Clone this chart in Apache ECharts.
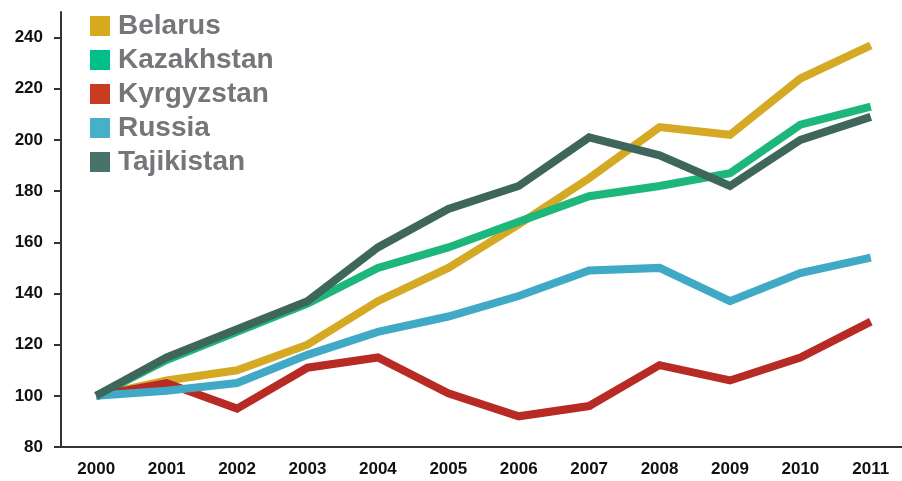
<!DOCTYPE html>
<html>
<head>
<meta charset="utf-8">
<script src="https://cdn.jsdelivr.net/npm/echarts@6/dist/echarts.min.js"></script>
<style>
  html, body { margin: 0; padding: 0; background: #fff; }
  #chart { width: 902px; height: 481px; }
</style>
</head>
<body>
<div id="chart"></div>
<script>
const years = ['2000', '2001', '2002', '2003', '2004', '2005', '2006', '2007', '2008', '2009', '2010', '2011']
const yTicks = [80, 100, 120, 140, 160, 180, 200, 220, 240]

const belarus    = [100, 106, 110, 120, 137, 150, 167, 185, 205, 202, 224, 237]
const kazakhstan = [100, 114, 125, 136, 150, 158, 168, 178, 182, 187, 206, 213]
const kyrgyzstan = [100, 105, 95, 111, 115, 101, 92, 96, 112, 106, 115, 129]
const russia     = [100, 102, 105, 116, 125, 131, 139, 149, 150, 137, 148, 154]
const tajikistan = [100, 115, 126, 137, 158, 173, 182, 201, 194, 182, 200, 209]

const seriesDefs = [
  { name: 'Belarus', data: belarus, color: '#d6a925' },
  { name: 'Kazakhstan', data: kazakhstan, color: '#1db77b' },
  { name: 'Kyrgyzstan', data: kyrgyzstan, color: '#b82b25' },
  { name: 'Russia', data: russia, color: '#40a9c6' },
  { name: 'Tajikistan', data: tajikistan, color: '#3e665b' },
]

const legendColors = {
  Belarus: '#d6a91f',
  Kazakhstan: '#00bf8a',
  Kyrgyzstan: '#c83c22',
  Russia: '#45b0c8',
  Tajikistan: '#47736a',
}

const axisFont = {
  fontFamily: 'Liberation Sans',
  fontWeight: 'bold',
  fontSize: 17,
  color: '#111',
}

const option = {
  animation: false,
  backgroundColor: '#fff',
  // the last category runs a little past the right edge, as in the source
  grid: { left: 61, width: 845, top: 12, bottom: 34, outerBoundsMode: 'none', containLabel: false },
  legend: {
    orient: 'vertical',
    left: 90,
    top: 12,
    padding: 0,
    itemGap: 6,
    itemWidth: 20,
    itemHeight: 20,
    icon: 'rect',
    textStyle: {
      fontFamily: 'Liberation Sans',
      fontWeight: 'bold',
      fontSize: 28,
      lineHeight: 28,
      color: '#76767a',
      padding: [0, 0, 0, 3],
    },
    data: seriesDefs.map(s => ({ name: s.name, itemStyle: { color: legendColors[s.name] } })),
  },
  xAxis: {
    type: 'category',
    data: years,
    boundaryGap: true,
    axisLine: { lineStyle: { color: '#333', width: 2 } },
    axisTick: { length: 6, lineStyle: { color: '#333', width: 2 } },
    axisLabel: { ...axisFont, margin: 14 },
    splitLine: { show: false },
  },
  yAxis: {
    type: 'value',
    min: 80,
    max: 250,
    interval: 20,
    axisLine: { show: true, lineStyle: { color: '#333', width: 2 } },
    axisTick: { show: true, length: 7, customValues: yTicks, lineStyle: { color: '#333', width: 2 } },
    axisLabel: { ...axisFont, margin: 18, customValues: yTicks },
    splitLine: { show: false },
  },
  series: seriesDefs.map(s => ({
    name: s.name,
    type: 'line',
    data: s.data,
    color: s.color,
    symbol: 'none',
    lineStyle: { width: 8, color: s.color, join: 'miter' },
  })),
}

const chart = echarts.init(document.getElementById('chart'))
chart.setOption(option)
</script>
</body>
</html>
